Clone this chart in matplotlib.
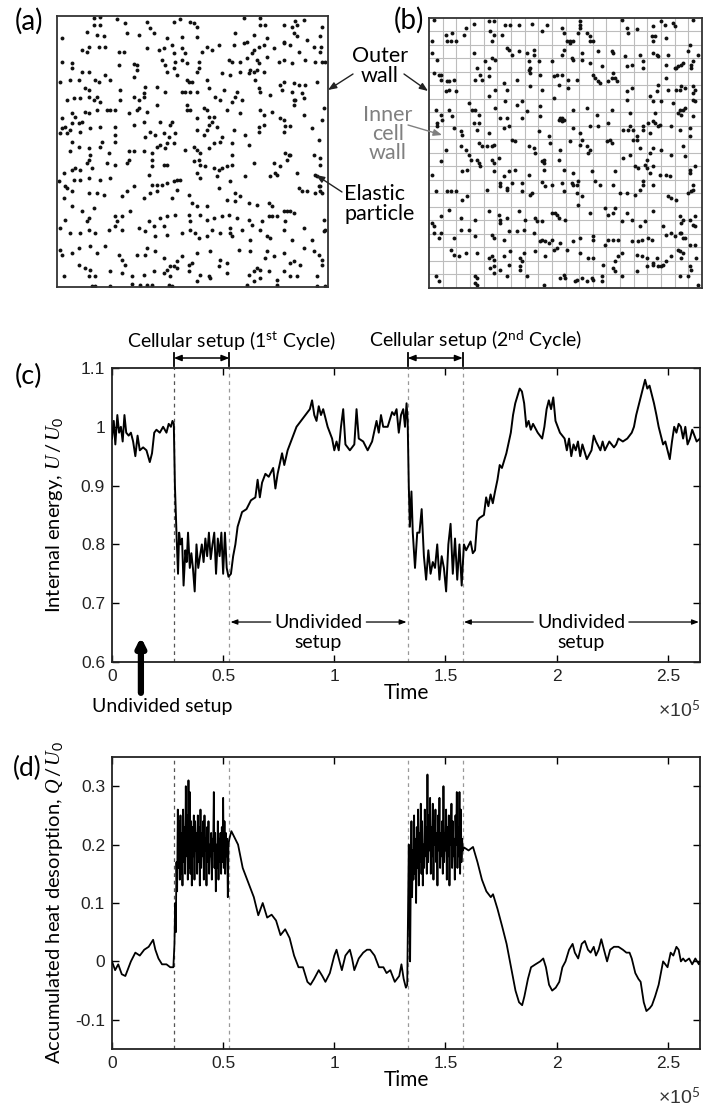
import matplotlib
matplotlib.use("Agg")
import matplotlib.pyplot as plt
import numpy as np

plt.rcParams['font.family'] = ['Lato', 'DejaVu Sans']
plt.rcParams['mathtext.fontset'] = 'custom'
plt.rcParams['mathtext.rm'] = 'Lato'
plt.rcParams['mathtext.it'] = 'Liberation Serif:italic'
plt.rcParams['mathtext.bf'] = 'Lato:bold'

# particle positions, (a) undivided box and (b) cellular box (box units)
box_a = (170, 983, 48, 862)
particles_a = [
    (280,55),(300,52),(350,58),(440,65),(520,65),(540,58),(570,65),(580,68),(730,55),(780,55),(885,62),(910,60),
    (280,75),(300,75),(375,70),(450,85),(590,80),(780,75),(795,75),(850,75),(875,80),(890,75),(965,80),
    (185,115),(260,95),(290,105),(310,108),(380,100),(415,105),(460,100),(500,115),(545,110),(590,110),(705,100),
    (760,105),(800,115),(850,125),(880,100),(890,108),(920,120),(960,108),
    (245,150),(265,140),(260,155),(295,140),(315,140),(355,155),(370,155),(440,145),(475,150),(490,145),(515,135),
    (520,160),(545,145),(555,160),(605,155),(620,140),(635,150),(655,135),(700,135),(730,130),(740,125),(760,150),
    (775,140),(790,135),(820,145),(850,130),(870,135),(895,155),(940,140),(960,155),(963,140),
    (185,185),(215,190),(215,205),(355,195),(400,193),(410,195),(410,210),(485,180),(495,195),(520,205),(525,185),
    (545,180),(560,190),(595,185),(595,205),(685,180),(695,185),(720,185),(740,175),(755,160),(770,180),(775,190),
    (800,170),(835,185),(850,180),(875,190),(915,180),(945,185),(965,185),(975,185),
    (180,245),(210,240),(235,240),(245,215),(265,215),(285,240),(295,245),(315,225),(330,240),(400,230),(435,262),
    (470,262),(500,215),(530,225),(560,240),(565,245),(575,245),(590,215),(620,240),(665,220),(690,225),(720,215),
    (745,220),(750,210),(760,215),(770,210),(790,215),(850,245),(880,250),(950,245),
    (200,300),(220,295),(240,295),(255,265),(265,270),(265,290),(280,300),(290,290),(300,305),(320,330),(360,270),
    (360,300),(400,290),(430,290),(430,280),(415,300),(470,315),(495,275),(545,275),(555,275),(570,275),(590,275),
    (625,265),(645,290),(660,300),(670,270),(695,305),(705,290),(710,275),(725,300),(765,240),(775,265),(780,275),
    (810,285),(845,270),(875,275),(885,300),(905,280),(910,295),(840,255),(895,255),(915,255),
    (185,355),(215,340),(225,350),(255,335),(265,340),(290,330),(330,330),(345,330),(385,340),(410,330),(415,325),
    (440,335),(560,315),(560,330),(570,330),(590,355),(610,325),(620,330),(625,350),(640,350),(680,330),(720,340),
    (780,330),(790,345),(815,335),(850,360),(880,315),(880,300),(910,345),(970,325),(965,360),
    (180,400),(195,380),(200,400),(210,390),(215,370),(235,370),(240,395),(245,365),(185,385),(270,385),(300,380),
    (345,380),(345,405),(400,375),(430,365),(435,410),(450,395),(465,405),(480,365),(490,400),(505,410),(510,375),
    (515,365),(525,400),(590,390),(620,390),(625,375),(635,365),(610,405),(650,380),(665,410),(700,390),(735,405),
    (775,380),(775,395),(790,375),(840,355),(855,378),(870,378),(850,395),(935,385),
    (215,425),(235,440),(210,455),(265,445),(270,465),(300,440),(305,425),(325,460),(345,425),(385,455),(400,455),
    (430,455),(455,460),(470,440),(480,435),(495,445),(500,430),(520,430),(555,450),(580,440),(590,450),(600,460),
    (625,445),(640,430),(660,425),(695,430),(695,465),(745,435),(855,460),(865,465),(955,420),
    (190,520),(215,510),(225,505),(240,510),(260,490),(265,480),(275,505),(320,490),(345,495),(380,490),(385,480),
    (455,480),(455,500),(490,495),(500,495),(580,485),(595,480),(600,495),(590,520),(615,500),(640,505),(655,510),
    (665,505),(680,500),(695,495),(760,490),(820,490),(840,500),(860,480),(870,465),(940,465),(960,475),(960,495),
    (175,545),(195,560),(220,540),(240,540),(265,535),(300,540),(330,535),(445,525),(455,555),(470,555),(485,555),
    (500,550),(520,545),(530,540),(540,540),(600,535),(650,530),(690,545),(735,530),(810,530),(825,520),(830,525),
    (890,520),(945,525),(950,530),(955,560),(960,560),
    (200,565),(215,575),(190,595),(215,620),(265,580),(290,580),(310,585),(400,560),(380,575),(365,590),(430,595),
    (450,580),(470,575),(515,595),(530,570),(565,585),(575,610),(590,620),(620,620),(655,565),(680,600),(705,580),
    (705,605),(720,590),(745,610),(770,615),(805,610),(815,620),(850,635),(860,635),(870,635),(895,565),(905,575),
    (920,575),(945,580),(960,575),(965,580),
    (195,660),(245,635),(260,665),(265,655),(280,625),(345,650),(350,665),(365,650),(390,635),(445,665),(480,655),
    (500,650),(525,645),(565,645),(570,665),(600,645),(620,660),(640,655),(665,650),(685,645),(710,655),(745,660),
    (755,675),(785,665),(805,650),(815,650),(830,650),(855,665),(880,640),(970,660),(975,690),(970,695),
    (180,685),(210,700),(240,700),(265,690),(285,700),(325,690),(345,680),(365,690),(415,685),(435,695),(460,680),
    (465,710),(490,680),(500,705),(545,700),(570,690),(585,700),(595,715),(620,710),(635,690),(660,700),(690,685),
    (690,700),(695,710),(725,690),(750,720),(780,690),(800,710),(810,715),(850,690),(875,720),(910,685),(935,720),
    (180,750),(185,765),(215,760),(235,745),(270,740),(290,760),(315,740),(355,765),(365,780),(375,795),(410,765),
    (435,765),(440,745),(465,755),(490,775),(510,800),(520,800),(530,785),(545,770),(565,795),(575,790),(590,760),
    (630,755),(660,780),(680,790),(715,750),(750,755),(800,755),(795,775),(820,770),(850,760),(870,790),(880,785),
    (910,745),(940,755),(955,765),(965,780),(900,795),
    (190,830),(235,795),(255,805),(270,810),(265,828),(285,830),(330,815),(365,820),(395,830),(430,825),(460,815),
    (490,820),(500,810),(530,805),(565,815),(600,825),(630,835),(625,828),(655,800),(680,820),(745,825),(760,815),
    (770,805),(780,810),(805,815),(850,815),(870,830),(890,830),(830,840),(950,830),(965,795),(275,858),(285,858),
    (330,858),(395,852),(420,855),(440,855),(455,855),(505,855),(515,858),(510,830),(590,845),(740,855),(760,845),
    (780,835),(830,855),(950,858),(975,858),
]

box_b = (205, 1027, 55, 865)
n_cells = 20
particles_b = [
    (220,60),(255,105),(275,100),(260,125),(270,125),(285,125),(310,105),(315,85),(340,72),(385,65),(400,65),
    (390,95),(400,105),(395,125),(425,105),(435,75),(450,75),(475,75),(515,72),(545,95),(560,75),(605,85),(610,100),
    (620,125),(630,130),(640,125),(655,100),(660,65),(660,75),(660,85),(680,100),(690,110),(690,125),(700,125),
    (785,60),(800,85),(805,100),(830,88),(880,80),(875,110),(880,125),(885,110),(905,65),(915,75),(940,70),(945,80),
    (920,115),(1000,60),
    (215,125),(215,160),(230,180),(340,160),(350,205),(375,185),(395,175),(405,180),(385,205),(440,145),(445,150),
    (455,165),(475,155),(500,160),(505,185),(520,150),(520,165),(535,185),(575,185),(605,165),(610,150),(630,125),
    (635,175),(640,180),(665,160),(665,180),(690,190),(715,155),(725,200),(755,155),(760,160),(795,170),(800,200),
    (815,195),(840,165),(850,185),(850,205),(880,160),(890,165),(895,170),(920,195),(925,165),(945,205),(950,205),
    (955,200),(965,195),(970,190),(985,155),(990,135),(995,195),(995,205),(1000,185),(1015,165),
    (220,220),(235,225),(240,240),(240,225),(260,245),(265,245),(280,240),(255,275),(265,270),(285,275),(345,240),
    (360,225),(365,240),(385,230),(405,270),(430,250),(440,270),(470,240),(505,210),(510,220),(510,205),(510,260),
    (540,225),(545,270),(580,230),(590,225),(605,225),(595,255),(625,240),(625,265),(650,240),(700,225),(705,235),
    (715,245),(720,250),(745,245),(755,235),(765,235),(770,245),(760,220),(800,275),(815,265),(870,290),(890,275),
    (895,255),(920,235),(925,270),(950,270),(960,270),(965,260),(975,265),(1000,260),(1000,280),(1005,270),
    (225,330),(230,370),(240,345),(245,360),(265,330),(275,350),(325,310),(335,330),(345,330),(355,345),(385,290),
    (405,325),(435,305),(470,315),(485,305),(500,335),(540,320),(540,350),(580,295),(605,355),(610,360),(640,330),
    (680,325),(710,345),(755,330),(800,300),(810,340),(880,305),(885,340),(905,305),(940,310),(955,340),(960,330),
    (965,345),(970,330),(975,325),(1000,300),(1000,350),(1005,305),
    (230,380),(280,385),(300,395),(305,405),(340,370),(350,390),(355,370),(385,400),(420,355),(440,355),(430,385),
    (445,380),(485,355),(535,395),(565,410),(595,360),(600,355),(605,365),(640,385),(660,400),(690,380),(715,380),
    (745,370),(790,390),(805,390),(810,380),(820,390),(830,410),(850,380),(850,390),(865,370),(870,400),(880,365),
    (885,370),(895,380),(900,375),(935,380),(960,390),(990,385),(990,410),
    (255,450),(300,440),(315,450),(325,465),(355,430),(365,440),(380,440),(395,440),(400,435),(415,475),(455,420),
    (465,425),(505,440),(520,445),(525,460),(545,485),(550,480),(550,490),(570,430),(600,450),(630,425),(660,435),
    (665,420),(680,440),(685,460),(690,450),(740,425),(750,420),(755,430),(790,475),(810,465),(820,420),(830,420),
    (840,445),(860,480),(870,460),(880,445),(905,450),(935,465),(970,440),(975,470),
    (215,525),(240,485),(305,515),(320,510),(330,480),(350,480),(355,490),(360,500),(395,480),(400,490),(400,515),
    (430,530),(445,515),(465,510),(505,525),(550,510),(595,480),(610,510),(640,520),(695,515),(765,515),(825,500),
    (835,505),(855,495),(860,505),(870,520),(880,500),(900,525),(920,525),(930,530),(990,510),(990,520),(1005,500),
    (225,575),(260,575),(270,575),(285,575),(305,600),(320,590),(380,570),(420,550),(420,560),(440,565),(440,570),
    (455,550),(485,550),(485,575),(515,580),(510,585),(545,548),(555,560),(575,555),(605,550),(610,575),(635,550),
    (640,555),(650,555),(655,545),(650,580),(665,590),(705,545),(720,555),(760,555),(780,580),(800,580),(825,585),
    (840,570),(850,545),(850,555),(880,555),(925,590),(935,595),(950,600),(985,580),(1000,570),(1000,555),(995,575),
    (240,650),(265,630),(300,655),(345,660),(385,635),(415,645),(420,660),(420,670),(440,655),(475,635),(495,660),
    (525,655),(530,665),(545,665),(575,640),(585,640),(590,645),(595,655),(615,660),(655,615),(690,640),(735,625),
    (745,645),(760,640),(765,625),(785,665),(800,640),(815,660),(840,680),(855,665),(880,635),(910,680),(960,650),
    (965,670),(970,660),(990,660),(1000,675),(1005,680),(1005,650),
    (215,670),(220,680),(220,700),(235,715),(240,700),(280,715),(300,690),(325,690),(345,710),(395,705),(400,715),
    (430,720),(445,695),(470,695),(490,690),(520,700),(540,725),(555,725),(565,730),(575,720),(600,730),(640,725),
    (660,715),(700,710),(700,720),(735,735),(745,720),(760,720),(775,720),(815,725),(835,725),(845,720),(865,715),
    (875,720),(920,705),(935,700),(945,710),(960,700),(965,700),(970,715),(975,715),(990,735),(1005,735),
    (270,750),(280,765),(295,770),(315,760),(350,760),(385,775),(395,770),(400,780),(430,770),(445,795),(450,755),
    (480,775),(485,785),(490,760),(525,755),(545,720),(555,770),(580,750),(590,745),(620,750),(660,760),(685,775),
    (700,775),(730,795),(765,785),(775,770),(785,760),(830,765),(845,770),(860,775),(880,795),(890,775),(895,800),
    (905,800),(910,795),(920,785),(935,770),(955,750),(960,755),(965,775),(970,760),(990,800),(995,810),(1010,775),
    (225,830),(235,845),(345,830),(345,850),(350,835),(350,855),(390,805),(400,800),(400,820),(420,810),(440,830),
    (480,800),(480,810),(500,830),(550,855),(600,835),(610,825),(615,835),(645,845),(650,840),(665,835),(680,845),
    (695,835),(700,840),(725,830),(725,845),(760,805),(765,815),(785,830),(830,815),(860,800),(880,790),(960,830),
    (985,830),(1015,855),
]

# internal energy U/U0, time in units of 1e5
t_c = [0.000, 0.008, 0.015, 0.024, 0.032, 0.040, 0.048, 0.056, 0.064, 0.075, 0.085, 0.095, 0.105, 0.115, 0.125,
       0.140, 0.155, 0.170, 0.180, 0.190, 0.200, 0.215, 0.230, 0.245, 0.255, 0.265, 0.272, 0.278,
       0.283, 0.290, 0.297, 0.302, 0.308, 0.315, 0.322, 0.330, 0.336, 0.342, 0.350, 0.357, 0.364, 0.372, 0.380,
       0.388, 0.396, 0.404, 0.412, 0.420, 0.428, 0.436, 0.444, 0.452, 0.460, 0.468, 0.476, 0.484, 0.492, 0.500,
       0.508, 0.516, 0.524,
       0.535, 0.545, 0.555, 0.565, 0.585, 0.605, 0.625, 0.645, 0.655, 0.665, 0.675, 0.690, 0.705, 0.725, 0.735,
       0.745, 0.765, 0.775, 0.790, 0.810, 0.830, 0.850, 0.870, 0.890, 0.900, 0.910, 0.920, 0.930, 0.940, 0.950,
       0.960, 0.970, 0.990, 1.000, 1.010, 1.020, 1.030, 1.040, 1.050, 1.070, 1.090, 1.100, 1.110, 1.130, 1.150,
       1.170, 1.190, 1.200, 1.210, 1.220, 1.240, 1.260, 1.270, 1.280, 1.290, 1.300, 1.310, 1.318, 1.325, 1.330,
       1.335, 1.340, 1.347, 1.353, 1.363, 1.373, 1.383, 1.393, 1.403, 1.413, 1.423, 1.433, 1.443, 1.453, 1.463,
       1.473, 1.483, 1.493, 1.503, 1.513, 1.523, 1.533, 1.543, 1.553, 1.563, 1.573,
       1.583, 1.593, 1.613, 1.623, 1.633, 1.643, 1.653, 1.673, 1.683, 1.693, 1.703, 1.713, 1.723, 1.734, 1.744,
       1.754, 1.774, 1.794, 1.804, 1.814, 1.834, 1.844, 1.854, 1.864, 1.874, 1.884, 1.894, 1.915, 1.935, 1.945,
       1.955, 1.965, 1.975, 1.985, 1.995, 2.005, 2.015, 2.036, 2.046, 2.056, 2.066, 2.076, 2.086, 2.096, 2.106,
       2.116, 2.136, 2.157, 2.167, 2.177, 2.197, 2.207, 2.217, 2.237, 2.258, 2.268, 2.278, 2.298, 2.318, 2.338,
       2.348, 2.358, 2.378, 2.398, 2.408, 2.418, 2.438, 2.449, 2.459, 2.469, 2.479, 2.489, 2.499, 2.509, 2.519,
       2.529, 2.539, 2.549, 2.559, 2.569, 2.579, 2.589, 2.600, 2.610, 2.620, 2.630, 2.645]
u_c = [0.98, 1.01, 0.97, 1.02, 0.99, 1.00, 0.975, 1.02, 0.99, 0.985, 0.99, 0.975, 0.95, 0.985, 0.96,
       0.965, 0.96, 0.94, 0.955, 0.99, 0.995, 0.99, 1.00, 0.99, 1.005, 1.00, 1.01, 1.005,
       0.90, 0.82, 0.75, 0.82, 0.80, 0.81, 0.73, 0.79, 0.77, 0.82, 0.76, 0.785, 0.76, 0.72, 0.80,
       0.76, 0.78, 0.80, 0.77, 0.81, 0.78, 0.82, 0.775, 0.80, 0.82, 0.75, 0.81, 0.78, 0.82, 0.75,
       0.82, 0.76, 0.745,
       0.75, 0.78, 0.80, 0.83, 0.855, 0.86, 0.875, 0.88, 0.91, 0.88, 0.905, 0.92, 0.915, 0.93, 0.895,
       0.92, 0.955, 0.935, 0.96, 0.98, 1.00, 1.01, 1.02, 1.03, 1.045, 1.02, 1.01, 1.035, 1.02, 1.03,
       1.015, 1.00, 0.98, 0.96, 0.975, 0.96, 1.00, 1.03, 0.97, 0.96, 0.97, 1.03, 0.98, 0.975, 0.96,
       0.975, 1.01, 0.99, 1.02, 1.00, 1.00, 1.025, 1.02, 1.03, 0.99, 1.02, 1.03, 1.00, 1.04, 1.01,
       0.90, 0.83, 0.89, 0.82, 0.76, 0.82, 0.82, 0.86, 0.78, 0.74, 0.79, 0.75, 0.77, 0.76, 0.80,
       0.74, 0.78, 0.76, 0.72, 0.80, 0.835, 0.75, 0.81, 0.74, 0.80, 0.73,
       0.80, 0.79, 0.805, 0.785, 0.79, 0.84, 0.845, 0.85, 0.88, 0.865, 0.885, 0.87, 0.89, 0.91, 0.935,
       0.93, 0.955, 0.99, 1.02, 1.04, 1.065, 1.06, 1.04, 1.00, 1.01, 0.995, 1.005, 0.99, 0.98, 1.00,
       1.03, 1.045, 1.03, 1.05, 1.01, 1.00, 0.99, 0.98, 0.96, 0.98, 0.95, 0.97, 0.96, 0.975, 0.95,
       0.97, 0.945, 0.96, 0.985, 0.975, 0.96, 0.975, 0.96, 0.975, 0.965, 0.97, 0.98, 0.975, 0.98, 0.99,
       1.00, 1.02, 1.05, 1.08, 1.065, 1.07, 1.04, 1.02, 1.00, 0.985, 0.97, 0.975, 0.96, 0.945, 0.975,
       1.00, 0.99, 1.005, 1.00, 0.98, 1.00, 0.97, 0.98, 0.995, 0.985, 0.975, 0.98]

# accumulated heat desorption Q/U0
t_d = [0.000, 0.014, 0.028, 0.044, 0.060, 0.085, 0.105, 0.125, 0.145, 0.165, 0.185, 0.195, 0.209, 0.225,
       0.245, 0.262, 0.276,
       0.281, 0.284, 0.287, 0.290, 0.293, 0.296, 0.299, 0.302, 0.305, 0.308, 0.311, 0.314, 0.317, 0.320, 0.323,
       0.326, 0.329, 0.332, 0.335, 0.338, 0.341, 0.344, 0.347, 0.350, 0.353, 0.356, 0.359, 0.362, 0.365, 0.368,
       0.371, 0.374, 0.377, 0.380, 0.383, 0.386, 0.389, 0.392, 0.395, 0.398, 0.401, 0.404, 0.407, 0.410, 0.413,
       0.416, 0.419, 0.422, 0.425, 0.428, 0.431, 0.434, 0.437, 0.440, 0.443, 0.446, 0.449, 0.452, 0.455, 0.458,
       0.461, 0.464, 0.467, 0.470, 0.473, 0.476, 0.479, 0.482, 0.485, 0.488, 0.491, 0.494, 0.497, 0.500, 0.503,
       0.506, 0.509, 0.512, 0.515, 0.518, 0.521, 0.524, 0.528,
       0.537, 0.567, 0.588, 0.618, 0.638, 0.658, 0.678, 0.698, 0.718, 0.738, 0.758, 0.779, 0.799, 0.819, 0.839,
       0.859, 0.879, 0.893, 0.909, 0.930, 0.946, 0.960, 0.980, 1.000, 1.010, 1.020, 1.034, 1.050, 1.070, 1.080,
       1.090, 1.110, 1.130, 1.147, 1.161, 1.181, 1.201, 1.221, 1.235, 1.252, 1.272, 1.292, 1.302, 1.312, 1.322,
       1.328,
       1.332, 1.335, 1.338, 1.341, 1.344, 1.347, 1.350, 1.353, 1.356, 1.359, 1.362, 1.365, 1.368, 1.371, 1.374,
       1.377, 1.380, 1.383, 1.386, 1.389, 1.392, 1.395, 1.398, 1.401, 1.404, 1.407, 1.410, 1.413, 1.416, 1.419,
       1.422, 1.425, 1.428, 1.431, 1.434, 1.437, 1.440, 1.443, 1.446, 1.449, 1.452, 1.455, 1.458, 1.461, 1.464,
       1.467, 1.470, 1.473, 1.476, 1.479, 1.482, 1.485, 1.488, 1.491, 1.494, 1.497, 1.500, 1.503, 1.506, 1.509,
       1.512, 1.515, 1.518, 1.521, 1.524, 1.527, 1.530, 1.533, 1.536, 1.539, 1.542, 1.545, 1.548, 1.551, 1.554,
       1.557, 1.560, 1.563, 1.566, 1.569, 1.572, 1.575, 1.578,
       1.584, 1.604, 1.624, 1.644, 1.664, 1.684, 1.704, 1.714, 1.734, 1.755, 1.775, 1.795, 1.815, 1.831, 1.845,
       1.855, 1.871, 1.885, 1.905, 1.926, 1.940, 1.952, 1.966, 1.980, 1.996, 2.012, 2.026, 2.040, 2.056, 2.072,
       2.082, 2.097, 2.113, 2.127, 2.141, 2.153, 2.167, 2.177, 2.189, 2.201, 2.213, 2.227, 2.241, 2.258, 2.278,
       2.298, 2.314, 2.328, 2.338, 2.354, 2.368, 2.378, 2.392, 2.404, 2.419, 2.429, 2.443, 2.459, 2.469, 2.479,
       2.489, 2.499, 2.513, 2.525, 2.539, 2.549, 2.559, 2.569, 2.579, 2.596, 2.610, 2.624, 2.640, 2.645]
q_d = [0.0, -0.015, -0.005, -0.022, -0.025, 0.0, 0.015, 0.01, 0.02, 0.025, 0.037, 0.02, 0.005, -0.005,
       -0.005, -0.01, -0.01,
       0.03, 0.10, 0.05, 0.17, 0.12, 0.26, 0.16, 0.24, 0.14, 0.25, 0.15, 0.22, 0.13, 0.26, 0.17,
       0.23, 0.15, 0.30, 0.18, 0.25, 0.14, 0.31, 0.16, 0.29, 0.15, 0.24, 0.13, 0.23, 0.18, 0.25,
       0.14, 0.24, 0.19, 0.22, 0.15, 0.25, 0.17, 0.23, 0.13, 0.26, 0.16, 0.22, 0.18, 0.24, 0.14,
       0.25, 0.19, 0.21, 0.13, 0.23, 0.17, 0.24, 0.15, 0.20, 0.18, 0.22, 0.14, 0.21, 0.19, 0.29,
       0.16, 0.22, 0.12, 0.20, 0.16, 0.24, 0.14, 0.21, 0.17, 0.22, 0.15, 0.23, 0.17, 0.28, 0.16,
       0.24, 0.15, 0.22, 0.18, 0.21, 0.11, 0.20, 0.21,
       0.223, 0.20, 0.16, 0.13, 0.11, 0.079, 0.10, 0.075, 0.08, 0.07, 0.045, 0.055, 0.04, 0.01, -0.01,
       -0.01, -0.035, -0.04, -0.03, -0.015, -0.025, -0.035, -0.02, 0.01, 0.02, 0.005, -0.015, 0.01, 0.02, 0.005,
       -0.015, 0.005, 0.015, 0.02, 0.02, 0.01, -0.01, -0.01, -0.02, -0.015, -0.035, -0.025, -0.005, -0.03, -0.045,
       -0.04,
       0.10, 0.20, 0.09, 0.0, 0.14, 0.24, 0.11, 0.19, 0.14, 0.25, 0.15, 0.21, 0.10, 0.23, 0.16,
       0.26, 0.13, 0.22, 0.17, 0.27, 0.15, 0.24, 0.13, 0.20, 0.16, 0.26, 0.18, 0.23, 0.15, 0.32,
       0.17, 0.25, 0.19, 0.28, 0.15, 0.23, 0.18, 0.27, 0.14, 0.24, 0.20, 0.26, 0.17, 0.22, 0.13,
       0.25, 0.19, 0.28, 0.16, 0.22, 0.18, 0.24, 0.15, 0.30, 0.17, 0.22, 0.19, 0.26, 0.14, 0.23,
       0.18, 0.25, 0.13, 0.22, 0.20, 0.27, 0.16, 0.24, 0.18, 0.21, 0.14, 0.25, 0.20, 0.29, 0.16,
       0.23, 0.18, 0.29, 0.15, 0.26, 0.17, 0.21, 0.19,
       0.195, 0.19, 0.196, 0.17, 0.14, 0.12, 0.11, 0.115, 0.09, 0.06, 0.03, -0.01, -0.05, -0.07, -0.075,
       -0.06, -0.03, -0.01, -0.005, 0.0, 0.005, -0.01, -0.04, -0.05, -0.045, -0.035, -0.01, 0.0, 0.02, 0.03,
       0.015, 0.005, 0.03, 0.035, 0.02, 0.015, 0.025, 0.01, 0.02, 0.038, 0.02, 0.0, 0.02, 0.025, 0.025,
       0.02, 0.015, 0.015, 0.005, -0.02, -0.03, -0.035, -0.07, -0.085, -0.08, -0.075, -0.06, -0.04, -0.02, 0.0,
       -0.005, -0.01, 0.015, 0.01, 0.025, 0.02, 0.0, 0.005, 0.0, 0.005, -0.005, 0.005, -0.005, 0.0]

switch_times = [0.278, 0.528, 1.33, 1.578]
switch_colors = ['#555555', '#999999', '#999999', '#999999']
x_max = 2.645

W, H = 704, 1108
fig = plt.figure(figsize=(W / 100, H / 100), dpi=100)


def fx(px):
    return px / W


def fy(py):
    return 1 - py / H


def add_ax(l, t, r, b):
    return fig.add_axes([fx(l), fy(b), (r - l) / W, (b - t) / H])


# ---- (a) and (b) particle boxes
ax_a = add_ax(57, 16, 328, 287)
ax_b = add_ax(429, 18, 702, 288)
for ax, box, pts in [(ax_a, box_a, particles_a), (ax_b, box_b, particles_b)]:
    xs = [p[0] for p in pts]
    ys = [p[1] for p in pts]
    ax.plot(xs, ys, 'o', ms=2.8, color='#111111', mec='none')
    ax.set_xlim(box[0], box[1])
    ax.set_ylim(box[3], box[2])
    ax.set_xticks([])
    ax.set_yticks([])
    for s in ax.spines.values():
        s.set_linewidth(1.3)
        s.set_color('#333333')

grid_x = np.linspace(box_b[0], box_b[1], n_cells + 1)[1:-1]
grid_y = np.linspace(box_b[2], box_b[3], n_cells + 1)[1:-1]
for gx in grid_x:
    ax_b.axvline(gx, color='#bdbdbd', lw=0.8, zorder=0)
for gy in grid_y:
    ax_b.axhline(gy, color='#bdbdbd', lw=0.8, zorder=0)

fig.text(fx(29), fy(21), '(a)', fontsize=20, ha='center', va='center')
fig.text(fx(409), fy(20), '(b)', fontsize=20, ha='center', va='center')

arr = dict(arrowstyle='-|>,head_width=0.2,head_length=0.5', lw=1, color='#222222', shrinkA=0, shrinkB=0)
fig.text(fx(380), fy(66), 'Outer\nwall', fontsize=15.5, ha='center', va='center', linespacing=0.95)
fig.add_artist(plt.Annotation('', xy=(fx(328), fy(90)), xytext=(fx(353), fy(74)),
                              xycoords='figure fraction', arrowprops=arr))
fig.add_artist(plt.Annotation('', xy=(fx(428), fy(91)), xytext=(fx(404), fy(74)),
                              xycoords='figure fraction', arrowprops=arr))
fig.text(fx(388), fy(134), 'Inner\ncell\nwall', fontsize=15.5, ha='center', va='center',
         color='#808080', linespacing=0.95)
arr_g = dict(arr, color='#808080')
fig.add_artist(plt.Annotation('', xy=(fx(442), fy(135)), xytext=(fx(408), fy(125)),
                              xycoords='figure fraction', arrowprops=arr_g))
fig.text(fx(344), fy(204), 'Elastic\nparticle', fontsize=15.5, ha='left', va='center', linespacing=0.95)
fig.add_artist(plt.Annotation('', xy=(fx(316), fy(175)), xytext=(fx(342), fy(192)),
                              xycoords='figure fraction', arrowprops=arr))

# ---- (c) and (d) time series
ax_c = add_ax(112, 368, 700, 662)
ax_d = add_ax(112, 757, 700, 1049)


def style_ts(ax, ylim, yticks, ylabel):
    ax.set_xlim(0, x_max)
    ax.set_ylim(*ylim)
    ax.set_xticks([0, 0.5, 1, 1.5, 2, 2.5])
    ax.set_yticks(yticks)
    ax.xaxis.set_major_formatter(plt.FuncFormatter(lambda v, p: '%g' % v))
    ax.yaxis.set_major_formatter(plt.FuncFormatter(lambda v, p: '%g' % round(v, 2)))
    ax.tick_params(direction='in', length=5, width=1, top=True, right=True, labelsize=12.5, pad=5)
    for lab in ax.get_xticklabels() + ax.get_yticklabels():
        lab.set_fontfamily('Liberation Sans')
        lab.set_color('#222222')
    for s in ax.spines.values():
        s.set_linewidth(1.3)
        s.set_color('#222222')
    for st, sc in zip(switch_times, switch_colors):
        ax.axvline(st, color=sc, lw=0.9, ls=(0, (3, 3)), zorder=1)
    ax.set_xlabel('Time', fontsize=15, labelpad=-1)
    ax.set_ylabel(ylabel, fontsize=14.5)
    ax.yaxis.set_label_coords(-0.08, 0.5)
    ax.text(1.0, -0.165, r'$\times$10$^5$', transform=ax.transAxes, ha='right', va='center',
            fontsize=14, color='#333333', fontfamily='Liberation Sans')


ax_c.plot(t_c, u_c, color='black', lw=1.4, zorder=3)
style_ts(ax_c, (0.6, 1.1), [0.6, 0.7, 0.8, 0.9, 1.0, 1.1], r'Internal energy, $U\,/\,U_0$')
ax_d.plot(t_d, q_d, color='black', lw=1.3, zorder=3)
style_ts(ax_d, (-0.15, 0.35), [-0.1, 0, 0.1, 0.2, 0.3], r'Accumulated heat desorption, $Q\,/\,U_0$')

fig.text(fx(28), fy(376), '(c)', fontsize=19.5, ha='center', va='center')
fig.text(fx(27), fy(768), '(d)', fontsize=19, ha='center', va='center')

# cellular setup brackets above (c)
tr = ax_c.get_xaxis_transform()
brk = dict(arrowstyle='<|-|>,head_width=0.18,head_length=0.45', lw=1.1, color='black',
           shrinkA=0, shrinkB=0)
for t0, t1, label, tx in [(0.278, 0.528, 'Cellular setup (1$^{\\mathrm{st}}$ Cycle)', 0.536),
                          (1.33, 1.578, 'Cellular setup (2$^{\\mathrm{nd}}$ Cycle)', 1.635)]:
    ax_c.annotate('', xy=(t0, 1.034), xytext=(t1, 1.034), xycoords=tr, textcoords=tr,
                  arrowprops=brk, annotation_clip=False)
    for tt in (t0, t1):
        ax_c.plot([tt, tt], [1.007, 1.052], transform=tr, color='black', lw=1.3, clip_on=False)
    ax_c.text(tx, 1.095, label, transform=tr, ha='center', va='center', fontsize=14)

# undivided setup spans inside (c)
arr2 = dict(arrowstyle='-|>,head_width=0.15,head_length=0.4', lw=0.9, color='black',
            shrinkA=0, shrinkB=0)
for t0, t1, tc, half in [(0.528, 1.33, 0.929, 0.215), (1.578, x_max, 2.11, 0.215)]:
    ax_c.text(tc, 0.136, 'Undivided', transform=tr, ha='center', va='center', fontsize=14)
    ax_c.text(tc, 0.066, 'setup', transform=tr, ha='center', va='center', fontsize=14)
    ax_c.annotate('', xy=(t0 + 0.005, 0.136), xytext=(tc - half, 0.136), xycoords=tr,
                  textcoords=tr, arrowprops=arr2, annotation_clip=False)
    ax_c.annotate('', xy=(t1 - 0.005, 0.136), xytext=(tc + half, 0.136), xycoords=tr,
                  textcoords=tr, arrowprops=arr2, annotation_clip=False)

# first undivided period marker
ax_c.annotate('', xy=(0.13, 0.085), xytext=(0.13, -0.105), xycoords=tr, textcoords=tr,
              arrowprops=dict(arrowstyle='-|>,head_width=0.25,head_length=0.5', lw=4.5,
                              color='black', shrinkA=0, shrinkB=0), annotation_clip=False)
ax_c.text(0.225, -0.15, 'Undivided setup', transform=tr, ha='center', va='center', fontsize=14)

fig.savefig('out.png', dpi=100)
